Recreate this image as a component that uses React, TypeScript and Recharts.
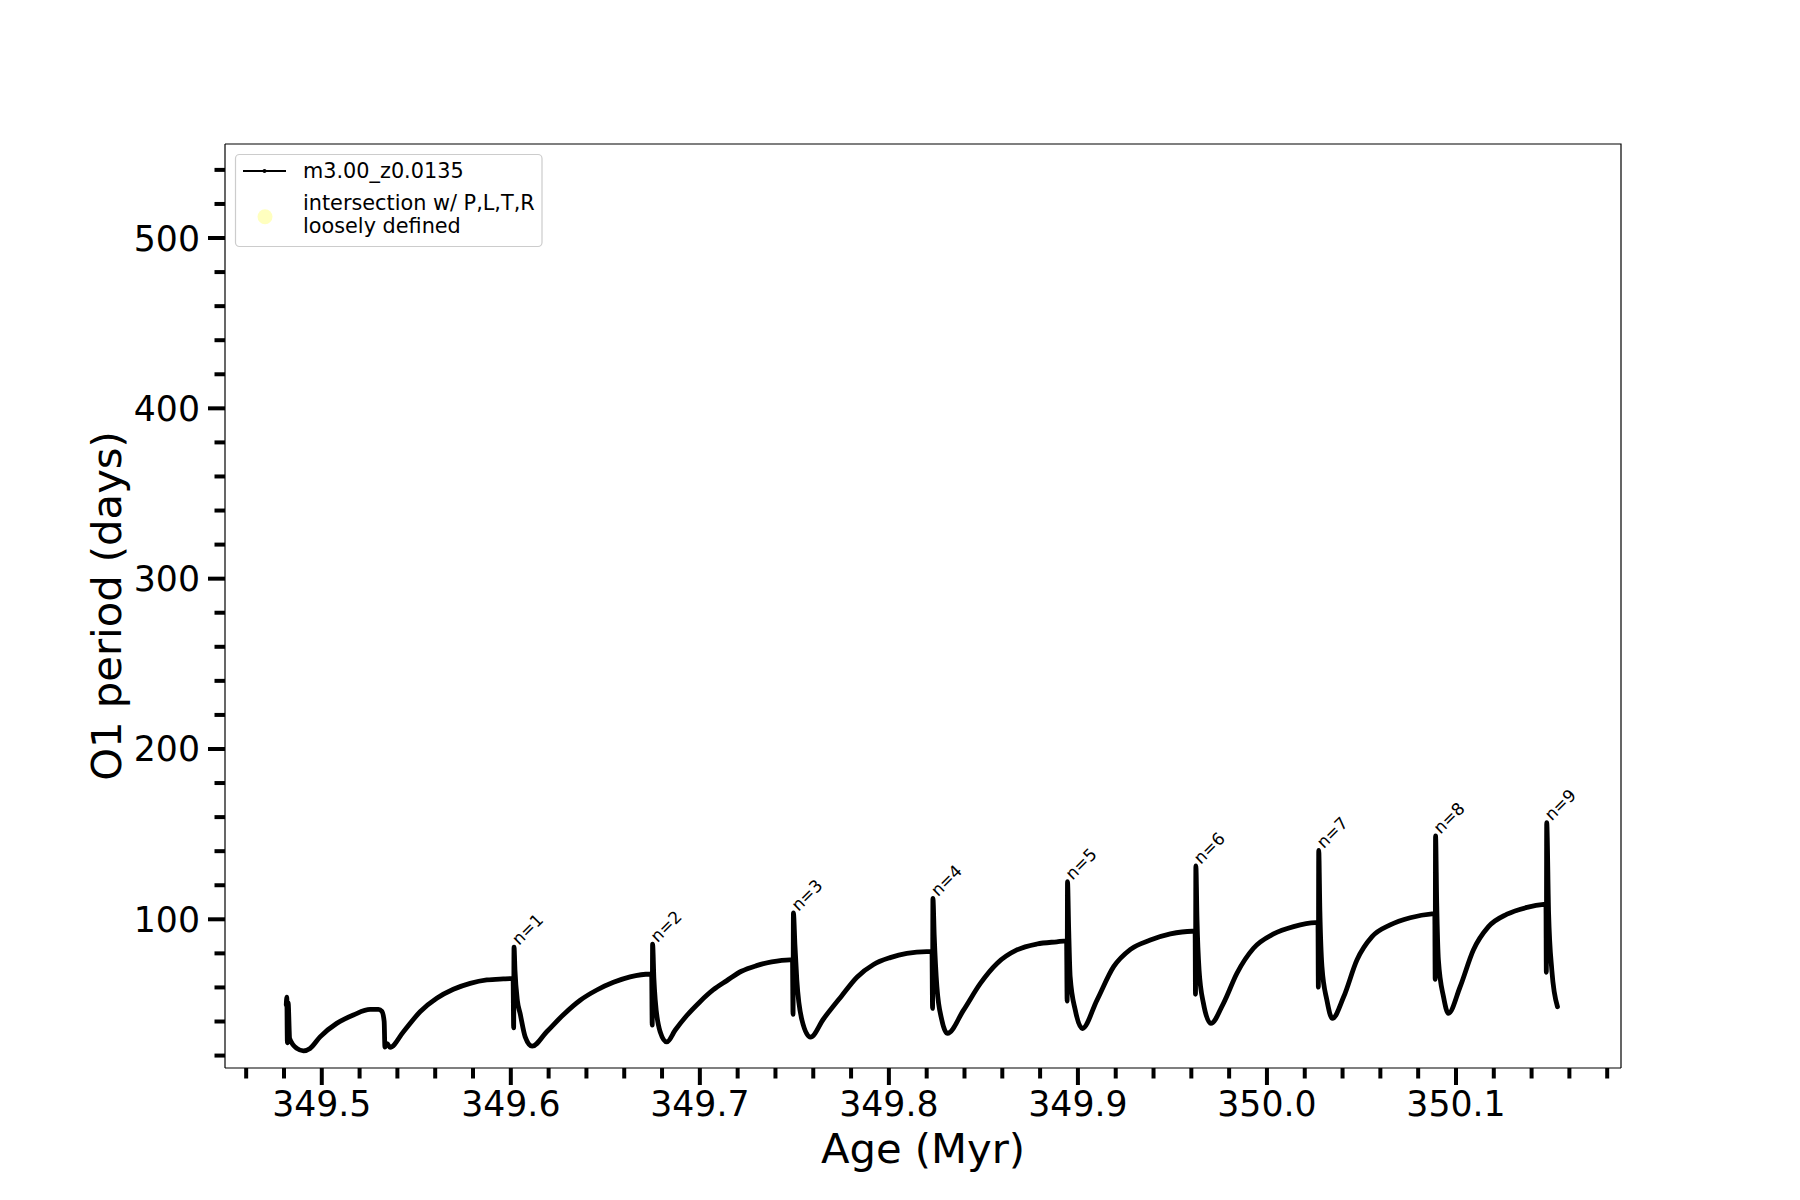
import React from 'react';
import { ComposedChart, Line, Scatter, XAxis, YAxis } from 'recharts';

const age = [
  349.4812, 349.4815, 349.4818, 349.4822, 349.4830, 349.4868, 349.4903, 349.4938, 349.4991, 349.5079,
  349.5167, 349.5256, 349.5300, 349.5318, 349.5330, 349.5334, 349.5346, 349.5361, 349.5432, 349.5520,
  349.5608, 349.5696, 349.5785, 349.5873, 349.5960, 349.6012, 349.6015, 349.6017, 349.6022, 349.6035,
  349.6049, 349.6076, 349.6113, 349.6190, 349.6278, 349.6367, 349.6455, 349.6543, 349.6631, 349.6737,
  349.6745, 349.6748, 349.6750, 349.6757, 349.6764, 349.6790, 349.6825, 349.6870, 349.6931, 349.7000,
  349.7070, 349.7143, 349.7220, 349.7300, 349.7380, 349.7476, 349.7490, 349.7493, 349.7495, 349.7503,
  349.7513, 349.7540, 349.7585, 349.7654, 349.7750, 349.7831, 349.7919, 349.8007, 349.8095, 349.8200,
  349.8228, 349.8231, 349.8233, 349.8240, 349.8254, 349.8280, 349.8310, 349.8395, 349.8484, 349.8572,
  349.8677, 349.8783, 349.8889, 349.8940, 349.8943, 349.8945, 349.8951, 349.8959, 349.8986, 349.9023,
  349.9101, 349.9189, 349.9278, 349.9383, 349.9489, 349.9604, 349.9620, 349.9622, 349.9624, 349.9630,
  349.9641, 349.9664, 349.9703, 349.9770, 349.9841, 349.9929, 350.0035, 350.0141, 350.0256, 350.0270,
  350.0272, 350.0274, 350.0280, 350.0291, 350.0317, 350.0346, 350.0406, 350.0476, 350.0556, 350.0652,
  350.0758, 350.0873, 350.0888, 350.0890, 350.0892, 350.0898, 350.0907, 350.0934, 350.0960, 350.1022,
  350.1092, 350.1172, 350.1270, 350.1376, 350.1464, 350.1476, 350.1478, 350.1480, 350.1490, 350.1507,
  350.1537,
];

const period = [
  49.7, 54.3, 27.5, 51.0, 30.0, 24.2, 22.8, 24.2, 31.0, 38.9,
  43.8, 47.1, 47.1, 46.0, 40.0, 25.0, 27.0, 24.8, 34.0, 45.7,
  53.6, 58.9, 62.4, 64.4, 65.0, 65.2, 36.3, 83.7, 70.0, 52.0,
  44.8, 31.0, 25.5, 34.0, 44.0, 52.5, 58.5, 63.0, 66.2, 67.9,
  67.9, 37.9, 85.4, 65.0, 52.6, 34.0, 28.0, 35.0, 43.5, 51.5,
  58.5, 64.0, 69.5, 72.8, 75.0, 76.2, 76.2, 44.2, 103.7, 85.0,
  64.4, 40.9, 30.8, 41.5, 55.0, 66.0, 73.5, 77.5, 80.0, 81.0,
  81.0, 47.7, 112.3, 90.0, 60.4, 40.9, 33.0, 46.7, 62.4, 74.1,
  82.0, 85.5, 86.8, 87.3, 52.0, 122.1, 95.0, 66.3, 46.7, 35.9,
  52.6, 72.2, 82.4, 87.8, 91.4, 93.0, 93.0, 56.0, 131.3, 100.0,
  70.2, 50.7, 38.9, 50.7, 68.3, 83.0, 91.4, 95.7, 98.0, 98.0,
  60.2, 140.5, 105.0, 72.2, 52.6, 41.8, 54.5, 76.1, 89.8, 96.7,
  100.9, 103.2, 103.3, 64.8, 149.0, 110.0, 76.1, 54.5, 44.8, 60.4,
  82.0, 95.7, 103.0, 107.0, 108.8, 108.9, 68.9, 156.8, 103.5, 70.2,
  48.7,
];

// pulse labels at the spike tops
const pulseLabels = ['n=1', 'n=2', 'n=3', 'n=4', 'n=5', 'n=6', 'n=7', 'n=8', 'n=9'];
const pulseAge = [349.6017, 349.6750, 349.7495, 349.8233, 349.8945, 349.9624, 350.0274, 350.0892, 350.1480];
const pulseTop = [83.7, 85.4, 103.7, 112.3, 122.1, 131.3, 140.5, 149.0, 156.8];

const xTicks = [
  349.46, 349.48, 349.5, 349.52, 349.54, 349.56, 349.58, 349.6, 349.62, 349.64,
  349.66, 349.68, 349.7, 349.72, 349.74, 349.76, 349.78, 349.8, 349.82, 349.84,
  349.86, 349.88, 349.9, 349.92, 349.94, 349.96, 349.98, 350.0, 350.02, 350.04,
  350.06, 350.08, 350.1, 350.12, 350.14, 350.16, 350.18,
];
const xMajor = [349.5, 349.6, 349.7, 349.8, 349.9, 350.0, 350.1];

const yTicks = [
  20, 40, 60, 80, 100, 120, 140, 160, 180, 200, 220, 240, 260, 280,
  300, 320, 340, 360, 380, 400, 420, 440, 460, 480, 500, 520, 540,
];
const yMajor = [100, 200, 300, 400, 500];

const track = age.map((a, i) => ({ age: a, period: period[i] }));
const pulses = pulseLabels.map((label, i) => ({ age: pulseAge[i], period: pulseTop[i], label }));

const FONT = '"DejaVu Sans", sans-serif';
const X_DOMAIN: [number, number] = [349.4488, 350.1873];
const Y_DOMAIN: [number, number] = [12.7, 555.2];

// plot box (matches chart margins / axis sizes below)
const PLOT = { left: 225, top: 144, right: 1621, bottom: 1068 };

const isMajorX = (v: number) => xMajor.some((m) => Math.abs(m - v) < 1e-6);

const XTick = (props: any) => {
  const { x, y, payload } = props;
  const major = isMajorX(payload.value);
  return (
    <g>
      <line x1={x} y1={y} x2={x} y2={y + (major ? 17 : 10.5)} stroke="#000" strokeWidth={4} />
      {major && (
        <text x={x} y={y + 48} textAnchor="middle" fontSize={34.7} fontFamily={FONT} fill="#000">
          {payload.value.toFixed(1)}
        </text>
      )}
    </g>
  );
};

const YTick = (props: any) => {
  const { x, y, payload } = props;
  const major = yMajor.includes(payload.value);
  return (
    <g>
      <line x1={x - (major ? 17 : 10.5)} y1={y} x2={x} y2={y} stroke="#000" strokeWidth={4} />
      {major && (
        <text x={x - 25} y={y + 12.5} textAnchor="end" fontSize={34.7} fontFamily={FONT} fill="#000">
          {payload.value}
        </text>
      )}
    </g>
  );
};

const PulseLabel = (props: any) => {
  const { cx, cy, payload } = props;
  const tx = cx + 5;
  const ty = cy - 1;
  return (
    <text
      x={tx}
      y={ty}
      transform={`rotate(-45 ${tx} ${ty})`}
      fontSize={17}
      fontFamily={FONT}
      fill="#000"
    >
      {payload.label}
    </text>
  );
};

export default function App() {
  return (
    <div style={{ position: 'absolute', left: 0, top: 0, width: 1800, height: 1200, background: '#fff' }}>
      <ComposedChart
        width={1800}
        height={1200}
        data={track}
        margin={{ top: PLOT.top, right: 1800 - PLOT.right, bottom: 0, left: 0 }}
      >
        <XAxis
          dataKey="age"
          type="number"
          domain={X_DOMAIN}
          allowDataOverflow
          ticks={xTicks}
          interval={0}
          tick={<XTick />}
          tickLine={false}
          tickSize={0}
          tickMargin={0}
          height={1200 - PLOT.bottom}
          axisLine={{ stroke: '#000', strokeWidth: 1.2 }}
        />
        <YAxis
          type="number"
          domain={Y_DOMAIN}
          allowDataOverflow
          ticks={yTicks}
          interval={0}
          tick={<YTick />}
          tickLine={false}
          tickSize={0}
          tickMargin={0}
          width={PLOT.left}
          axisLine={{ stroke: '#000', strokeWidth: 1.2 }}
        />
        <Line
          dataKey="period"
          type="monotoneX"
          stroke="#000"
          strokeWidth={4.8}
          strokeLinejoin="round"
          strokeLinecap="round"
          dot={false}
          isAnimationActive={false}
        />
        <Scatter
          data={pulses}
          dataKey="period"
          shape={<PulseLabel />}
          isAnimationActive={false}
        />
      </ComposedChart>

      <svg
        width={1800}
        height={1200}
        style={{ position: 'absolute', left: 0, top: 0, pointerEvents: 'none' }}
      >
        {/* top and right spines */}
        <polyline
          points={`${PLOT.left},${PLOT.top} ${PLOT.right},${PLOT.top} ${PLOT.right},${PLOT.bottom}`}
          fill="none"
          stroke="#000"
          strokeWidth={1.2}
        />
        <text x={923} y={1163} textAnchor="middle" fontSize={41.7} fontFamily={FONT} fill="#000">
          Age (Myr)
        </text>
        <text
          x={121}
          y={606}
          transform="rotate(-90 121 606)"
          textAnchor="middle"
          fontSize={41.7}
          fontFamily={FONT}
          fill="#000"
        >
          O1 period (days)
        </text>

        <rect x={235.5} y={154.5} width={306.5} height={92} rx={4} fill="#fff" fillOpacity={0.8} stroke="#cccccc" strokeWidth={1.2} />
        <line x1={243} y1={171} x2={286} y2={171} stroke="#000" strokeWidth={2} />
        <circle cx={264.5} cy={171} r={2} fill="#000" />
        <text x={303} y={178.3} fontSize={20.8} fontFamily={FONT} fill="#000">m3.00_z0.0135</text>
        <circle cx={265} cy={216.7} r={7.5} fill="#ffffbf" />
        <text x={303} y={210} fontSize={20.8} fontFamily={FONT} fill="#000">intersection w/ P,L,T,R</text>
        <text x={303} y={232.5} fontSize={20.8} fontFamily={FONT} fill="#000">loosely defined</text>
      </svg>
    </div>
  );
}
